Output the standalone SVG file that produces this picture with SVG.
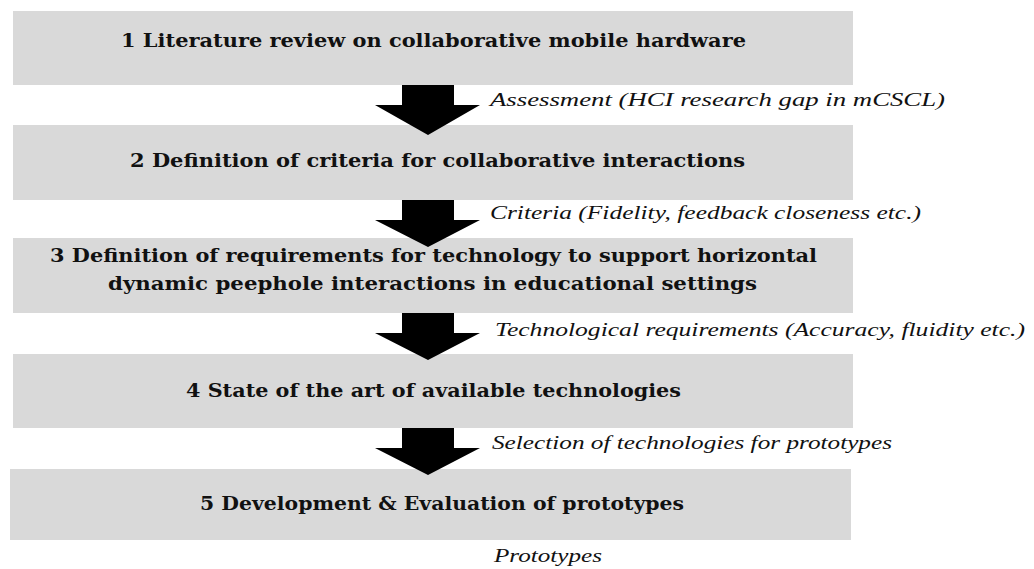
<svg xmlns="http://www.w3.org/2000/svg" width="1034" height="569" viewBox="0 0 1034 569">
<style>
.box{fill:#d9d9d9}
.t{font-family:"DejaVu Serif","Liberation Serif",serif;font-weight:bold;font-size:19px;fill:#111}
.l{font-family:"Liberation Serif","DejaVu Serif",serif;font-style:italic;font-size:19px;fill:#111}
.arr{fill:#000}
</style>
<rect width="1034" height="569" fill="#fff"/>
<g id="n1"><rect class="box" x="13" y="11" width="840" height="74"/><text class="t" x="121" y="47" textLength="625" lengthAdjust="spacingAndGlyphs">1 Literature review on collaborative mobile hardware</text></g>
<g id="n2"><rect class="box" x="13" y="125" width="840" height="75"/><text class="t" x="130" y="167" textLength="615" lengthAdjust="spacingAndGlyphs">2 Definition of criteria for collaborative interactions</text></g>
<g id="n3"><rect class="box" x="13" y="238" width="840" height="75"/><text class="t" x="50" y="262" textLength="767" lengthAdjust="spacingAndGlyphs">3 Definition of requirements for technology to support horizontal</text><text class="t" x="108" y="290" textLength="649" lengthAdjust="spacingAndGlyphs">dynamic peephole interactions in educational settings</text></g>
<g id="n4"><rect class="box" x="13" y="354" width="840" height="74"/><text class="t" x="186" y="397" textLength="495" lengthAdjust="spacingAndGlyphs">4 State of the art of available technologies</text></g>
<g id="n5"><rect class="box" x="10" y="469" width="841" height="71"/><text class="t" x="200" y="510" textLength="484" lengthAdjust="spacingAndGlyphs">5 Development &amp; Evaluation of prototypes</text></g>
<g id="connectors">
<polygon class="arr" points="402,85 454,85 454,105 480,105 428,135 375,105 402,105"/>
<polygon class="arr" points="402,200 454,200 454,220 480,220 428,247 375,220 402,220"/>
<polygon class="arr" points="402,313 454,313 454,333 480,333 428,360 375,333 402,333"/>
<polygon class="arr" points="402,428 454,428 454,448 480,448 428,475 375,448 402,448"/>
<text class="l" x="490" y="106" textLength="455" lengthAdjust="spacingAndGlyphs">Assessment (HCI research gap in mCSCL)</text>
<text class="l" x="490" y="219" textLength="431" lengthAdjust="spacingAndGlyphs">Criteria (Fidelity, feedback closeness etc.)</text>
<text class="l" x="495" y="336" textLength="530" lengthAdjust="spacingAndGlyphs">Technological requirements (Accuracy, fluidity etc.)</text>
<text class="l" x="492" y="449" textLength="400" lengthAdjust="spacingAndGlyphs">Selection of technologies for prototypes</text>
<text class="l" x="494" y="562" textLength="108" lengthAdjust="spacingAndGlyphs">Prototypes</text>
</g>
</svg>
